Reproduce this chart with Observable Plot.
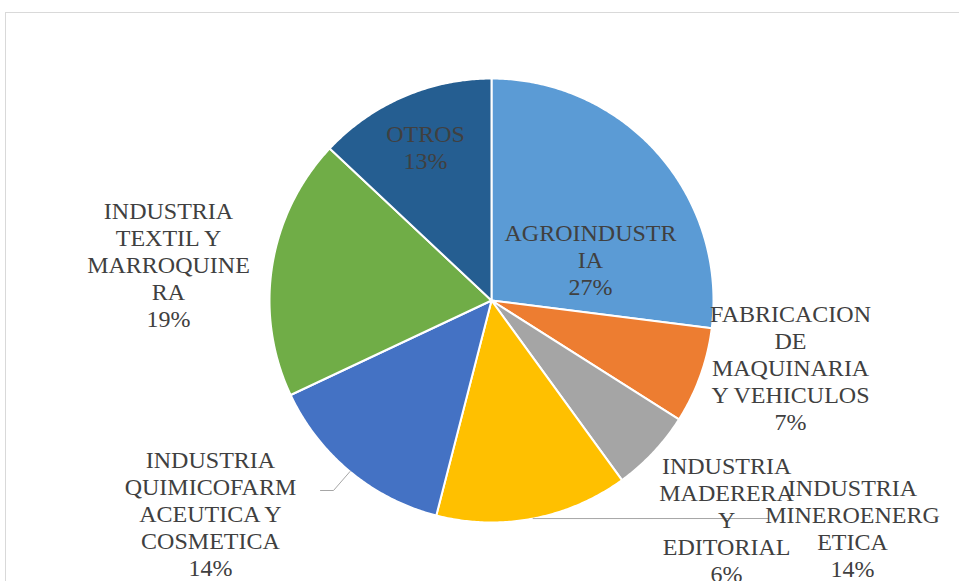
<!DOCTYPE html>
<html><head><meta charset="utf-8">
<script src="https://cdn.jsdelivr.net/npm/d3@7"></script>
<script src="https://cdn.jsdelivr.net/npm/@observablehq/plot@0.6"></script>
<style>
html,body{margin:0;padding:0;background:#fff;width:959px;height:581px;overflow:hidden}
#chart{position:absolute;left:0;top:0}
#frame{position:absolute;left:5px;top:12px;width:1000px;height:700px;border-top:1px solid #d9d9d9;border-left:1px solid #d9d9d9;pointer-events:none}
#chart svg text{font-family:"Liberation Serif","Times New Roman",serif !important}
</style></head><body>
<div id="chart"></div><div id="frame"></div>
<script>
// ---- data ----
const categories = ["AGROINDUSTRIA","FABRICACION DE MAQUINARIA Y VEHICULOS","INDUSTRIA MADERERA Y EDITORIAL","INDUSTRIA MINEROENERGETICA","INDUSTRIA QUIMICOFARMACEUTICA Y COSMETICA","INDUSTRIA TEXTIL Y MARROQUINERA","OTROS"];
const values = [27, 7, 6, 14, 14, 19, 13];
const labelLines = [
  ["AGROINDUSTR","IA"],
  ["FABRICACION","DE","MAQUINARIA","Y VEHICULOS"],
  ["INDUSTRIA","MADERERA","Y","EDITORIAL"],
  ["INDUSTRIA","MINEROENERG","ETICA"],
  ["INDUSTRIA","QUIMICOFARM","ACEUTICA Y","COSMETICA"],
  ["INDUSTRIA","TEXTIL Y","MARROQUINE","RA"],
  ["OTROS"]
];
const colors = ["#5B9BD5","#ED7D31","#A5A5A5","#FFC000","#4472C4","#70AD47","#255E91"];

// ---- layout (unit-circle coordinates, y up) ----
const labelPos = [[0.446,0.185],[1.347,-0.302],[1.059,-0.986],[1.626,-1.025],[-1.266,-0.959],[-1.455,0.162],[-0.297,0.691]];
const leaders = {3: [[768,518]], 4: [[333,490],[320,490]]}; // pixel end points of leader lines
const CX = 491, CY = 300, R = 222;
const W = 959, H = 581;
const toUx = px => (px - CX) / R, toUy = py => (CY - py) / R;

const total = d3.sum(values);
let acc = 0;
const slices = values.map((v, i) => {
  const a0 = acc / total * 2 * Math.PI; acc += v;
  const a1 = acc / total * 2 * Math.PI;
  return {i, cat: categories[i], v, a0, a1, mid: (a0 + a1) / 2};
});

const piePts = [];
for (const s of slices) {
  piePts.push({cat: s.cat, x: 0, y: 0});
  const n = Math.max(2, Math.ceil((s.a1 - s.a0) / (Math.PI / 360)));
  for (let k = 0; k <= n; k++) {
    const t = s.a0 + (s.a1 - s.a0) * k / n;
    piePts.push({cat: s.cat, x: Math.sin(t), y: Math.cos(t)});
  }
  piePts.push({cat: s.cat, x: 0, y: 0});
}

const leaderPts = [];
for (const k of Object.keys(leaders)) {
  const s = slices[k];
  leaderPts.push({id: k, x: Math.sin(s.mid), y: Math.cos(s.mid)});
  for (const p of leaders[k]) leaderPts.push({id: k, x: toUx(p[0]), y: toUy(p[1])});
}

const labelData = slices.map(s => ({
  x: labelPos[s.i][0], y: labelPos[s.i][1],
  text: [...labelLines[s.i], `${s.v}%`].join("\n")
}));

const chart = Plot.plot({
  width: W, height: H, margin: 0,
  style: {background: "transparent", fontFamily: "'Liberation Serif', 'Times New Roman', serif"},
  x: {domain: [toUx(0), toUx(W)], axis: null},
  y: {domain: [toUy(H), toUy(0)], axis: null},
  color: {domain: categories, range: colors},
  marks: [
    Plot.line(piePts, {x: "x", y: "y", z: "cat", fill: "cat", stroke: "white", strokeWidth: 2, curve: "linear", strokeLinejoin: "round"}),
    Plot.line(leaderPts, {x: "x", y: "y", z: "id", stroke: "#a6a6a6", strokeWidth: 1}),
    Plot.text(labelData, {x: "x", y: "y", text: "text", fontSize: 24, fontFamily: "Liberation Serif", fill: "#404040", lineHeight: 1.125, textAnchor: "middle"})
  ]
});
document.getElementById("chart").appendChild(chart);
</script>
</body></html>
